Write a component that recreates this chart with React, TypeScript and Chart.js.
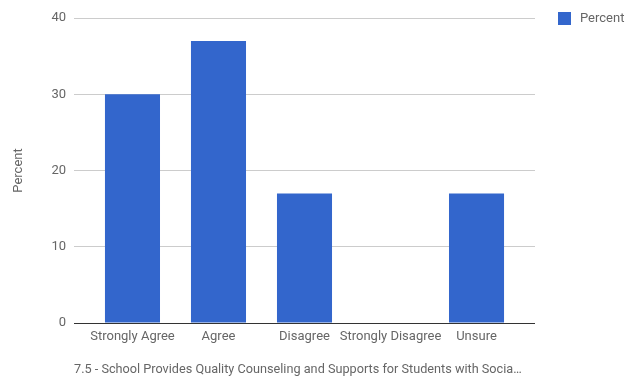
import React, { useEffect, useRef } from "react";
import { Chart, registerables } from "chart.js";

Chart.register(...registerables);

const categories = ["Strongly Agree", "Agree", "Disagree", "Strongly Disagree", "Unsure"];
const percentValues = [30, 37, 17, 0, 17];
const yTicks = [0, 10, 20, 30, 40];
const seriesLabel = "Percent";
const xTitle = "7.5 - School Provides Quality Counseling and Supports for Students with Socia\u2026";
const yTitle = "Percent";

const FONT = "Roboto, 'Noto Sans', Arial, sans-serif";
const BAR_COLOR = "#3366cc";
const TEXT_COLOR = "#666666";
const FONT_SIZE = 13;
const X_TITLE_SIZE = 12.7;

// Extra room on both sides of the category row, in category units
const SIDE_GAP = 0.68;

// Legend entry drawn to the right of the plot area
const sideLegend = {
  id: "sideLegend",
  afterDraw(chart: Chart) {
    const ctx = chart.ctx;
    const area = chart.chartArea;
    const x = area.right + 23;
    const y = area.top;
    ctx.save();
    ctx.fillStyle = BAR_COLOR;
    ctx.fillRect(x, y - 6, 13, 13);
    ctx.fillStyle = TEXT_COLOR;
    ctx.font = `${FONT_SIZE}px ${FONT}`;
    ctx.textBaseline = "middle";
    ctx.textAlign = "left";
    ctx.fillText(chart.data.datasets[0].label as string, x + 22, y + 1);
    ctx.restore();
  },
};

export default function App() {
  const canvasRef = useRef<HTMLCanvasElement | null>(null);

  useEffect(() => {
    if (!canvasRef.current) return;
    const chart = new Chart(canvasRef.current, {
      type: "bar",
      data: {
        datasets: [
          {
            label: seriesLabel,
            data: percentValues.map((v, i) => ({ x: i, y: v })),
            backgroundColor: BAR_COLOR,
            borderWidth: 0,
            categoryPercentage: 1,
            barPercentage: 0.64,
          },
        ],
      },
      options: {
        responsive: false,
        animation: false,
        layout: { padding: { left: 0, right: 99, top: 18, bottom: 0 } },
        plugins: {
          legend: { display: false },
          tooltip: { enabled: false },
        },
        scales: {
          x: {
            type: "linear",
            min: -SIDE_GAP,
            max: categories.length - 1 + SIDE_GAP,
            offset: false,
            afterBuildTicks: (scale: any) => {
              scale.ticks = categories.map((_, i) => ({ value: i }));
            },
            grid: { display: false, drawTicks: false },
            border: { display: false },
            ticks: {
              color: TEXT_COLOR,
              font: { family: FONT, size: FONT_SIZE },
              padding: 6,
              maxRotation: 0,
              autoSkip: false,
              callback: (value: any) => categories[Math.round(Number(value))] ?? "",
            },
            title: {
              display: true,
              text: xTitle,
              align: "start",
              color: TEXT_COLOR,
              font: { family: FONT, size: X_TITLE_SIZE },
              padding: { top: 0, bottom: 0 },
            },
            afterFit: (scale: any) => {
              scale.height = 54;
            },
          },
          y: {
            min: 0,
            max: 40,
            afterBuildTicks: (scale: any) => {
              scale.ticks = yTicks.map((v) => ({ value: v }));
            },
            grid: {
              drawTicks: false,
              color: (ctx: any) => (ctx.tick && ctx.tick.value === 0 ? "#333333" : "#cccccc"),
              lineWidth: 1,
            },
            border: { display: false },
            ticks: {
              color: TEXT_COLOR,
              font: { family: FONT, size: FONT_SIZE },
              padding: 8,
            },
            title: {
              display: true,
              text: yTitle,
              color: TEXT_COLOR,
              font: { family: FONT, size: FONT_SIZE },
              padding: { top: 11, bottom: 0 },
            },
            afterFit: (scale: any) => {
              scale.width = 74;
            },
          },
        },
      },
      plugins: [sideLegend],
    });
    return () => chart.destroy();
  }, []);

  return (
    <div style={{ position: "fixed", left: 0, top: 0, width: 634, height: 377, background: "#ffffff" }}>
      <canvas ref={canvasRef} width={634} height={377} />
    </div>
  );
}
